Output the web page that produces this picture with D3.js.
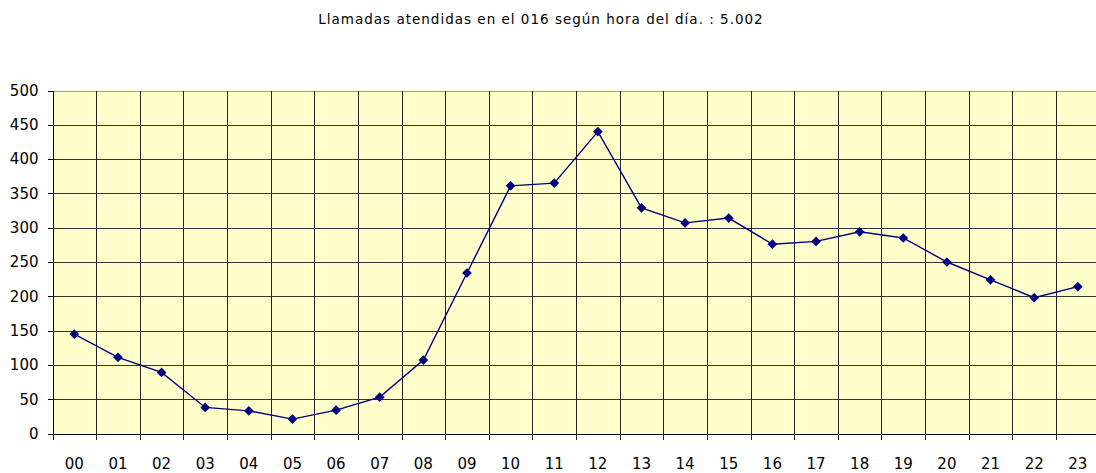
<!DOCTYPE html>
<html>
<head>
<meta charset="utf-8">
<script src="https://cdn.jsdelivr.net/npm/d3@7"></script>
<style>
body{margin:0;background:#fff;}
svg{display:block;}
</style>
</head>
<body>
<svg id="chart" width="1096" height="473"></svg>
<script>
// datos
var horas = ["00","01","02","03","04","05","06","07","08","09","10","11","12","13","14","15","16","17","18","19","20","21","22","23"];
var llamadas = [145,111,89,38,33,21,34,53,107,234,361,365,440,329,307,314,276,280,294,285,250,224,198,214];
var yTicks = [0,50,100,150,200,250,300,350,400,450,500];
var titulo = "Llamadas atendidas en el 016 según hora del día.  : 5.002";

(function(){
var svg = d3.select("#chart");
var mLeft = 52.5, mTop = 90.5, mBottom = 433.5, step = 43.63;
var mRight = mLeft + step*horas.length;

var x = d3.scaleBand().domain(horas).range([mLeft, mRight]);
var y = d3.scaleLinear().domain([0,500]).range([mBottom, mTop]);

svg.append("text")
	.attr("x", 541).attr("y", 24)
	.attr("text-anchor","middle")
	.style("font-family","'DejaVu Sans', sans-serif")
	.style("font-size","13.5px")
	.style("letter-spacing","1px")
	.style("fill","#000")
	.text(titulo);

// fondo
svg.append("rect")
	.attr("x", mLeft).attr("y", mTop)
	.attr("width", mRight-mLeft).attr("height", mBottom-mTop)
	.style("fill","#FFFFCC");

var g = svg.append("g").attr("shape-rendering","crispEdges");

// lineas horizontales
g.selectAll(".hl").data(yTicks.slice(1)).enter().append("line")
	.attr("x1", mLeft).attr("x2", mRight)
	.attr("y1", function(d){ return Math.round(y(d))+0.5; })
	.attr("y2", function(d){ return Math.round(y(d))+0.5; })
	.style("stroke", function(d){ return d==500 ? "#999" : "#333"; })
	.style("stroke-width",1);

// lineas verticales (entre categorias)
g.selectAll(".vl").data(horas.slice(1)).enter().append("line")
	.attr("x1", function(d){ return Math.round(x(d))+0.5; })
	.attr("x2", function(d){ return Math.round(x(d))+0.5; })
	.attr("y1", mTop).attr("y2", mBottom+6)
	.style("stroke","#222");

// eje y
var yAxis = d3.axisLeft(y).tickValues(yTicks).tickSize(6).tickPadding(9);
var ga = svg.append("g").attr("transform","translate("+(Math.round(mLeft)+0.5)+",0)").call(yAxis);
ga.select(".domain").attr("d","M0,"+mTop+"V"+(mBottom+6)).style("stroke","#000");
ga.selectAll("text").style("font-family","'DejaVu Sans', sans-serif").style("font-size","15px").style("fill","#000");
ga.selectAll("line").style("stroke","#000");
ga.attr("shape-rendering","crispEdges");

// eje x
svg.append("line")
	.attr("x1", mLeft).attr("x2", mRight)
	.attr("y1", Math.round(mBottom)+0.5).attr("y2", Math.round(mBottom)+0.5)
	.attr("shape-rendering","crispEdges")
	.style("stroke","#000");

svg.selectAll(".xl").data(horas).enter().append("text")
	.attr("x", function(d){ return x(d)+x.bandwidth()/2; })
	.attr("y", 469)
	.attr("text-anchor","middle")
	.style("font-family","'DejaVu Sans', sans-serif")
	.style("font-size","15px")
	.style("fill","#000")
	.text(function(d){ return d; });

// serie
var line = d3.line()
	.x(function(d,i){ return x(horas[i])+x.bandwidth()/2; })
	.y(function(d){ return y(d); });

svg.append("path")
	.datum(llamadas)
	.attr("d", line)
	.style("fill","none")
	.style("stroke","#000080")
	.style("stroke-width",1.4);

svg.selectAll(".pt").data(llamadas).enter().append("path")
	.attr("d", d3.symbol().type(d3.symbolDiamond2).size(60))
	.attr("transform", function(d,i){ return "translate("+(x(horas[i])+x.bandwidth()/2)+","+y(d)+")"; })
	.style("fill","#000080");
})();
</script>
</body>
</html>
